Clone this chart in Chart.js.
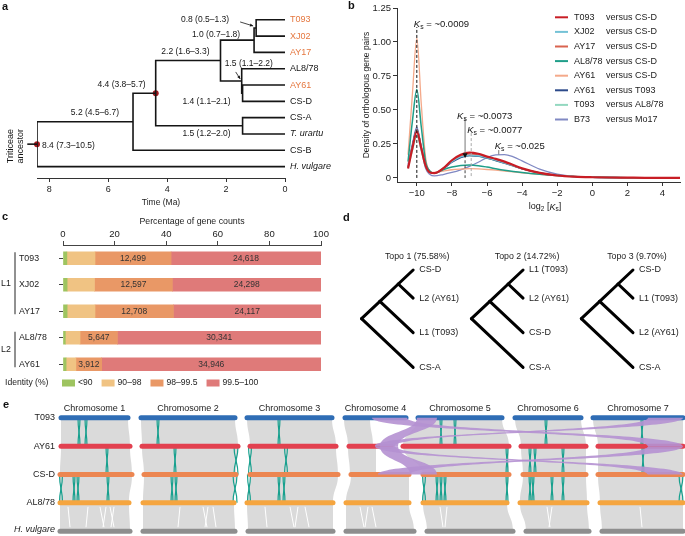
<!DOCTYPE html>
<html>
<head>
<meta charset="utf-8">
<title>Figure</title>
<script src="https://cdn.jsdelivr.net/npm/chart.js@4.4.1/dist/chart.umd.min.js"></script>
<style>
  body { margin: 0; background: #fff; }
  #fig { position: relative; width: 685px; height: 536px; overflow: hidden; font-family: "Liberation Sans", Arial, sans-serif; }
  #fig canvas { position: absolute; }
  .tag { position: absolute; font-weight: bold; font-size: 11px; color: #111; }
</style>
</head>
<body>
<div id="fig">
  <canvas id="chartA" width="340" height="215" style="left:0;top:0"></canvas>
  <canvas id="chartB" width="345" height="215" style="left:340px;top:0"></canvas>
  <canvas id="chartC" width="340" height="190" style="left:0;top:200px"></canvas>
  <canvas id="chartD" width="345" height="180" style="left:340px;top:200px"></canvas>
  <canvas id="chartE" width="685" height="141" style="left:0;top:395px"></canvas>
  <div class="tag" style="left:2px;top:0">a</div>
  <div class="tag" style="left:348px;top:-1px">b</div>
  <div class="tag" style="left:2px;top:210px">c</div>
  <div class="tag" style="left:343px;top:211px">d</div>
  <div class="tag" style="left:3px;top:398px">e</div>
</div>
<script>
// ---------- a: dated tree ----------
const leafNames = ['T093', 'XJ02', 'AY17', 'AL8/78', 'AY61', 'CS-D', 'CS-A', 'T. urartu', 'CS-B', 'H. vulgare'];
const nodeNames = ['n08', 'n10', 'n14', 'n15', 'n22', 'nUr', 'n44', 'n52', 'root'];
const nodeAges = [0.98, 1.05, 1.44, 1.47, 2.19, 1.44, 4.39, 5.16, 8.42];
const nodeKids = [['T093', 'XJ02'], ['n08', 'AY17'], ['AY61', 'CS-D'], ['AL8/78', 'n14'], ['n10', 'n15'],
                  ['CS-A', 'T. urartu'], ['n22', 'nUr'], ['n44', 'CS-B'], ['n52', 'H. vulgare']];
const nodeLabels = ['0.8 (0.5–1.3)', '1.0 (0.7–1.8)', '1.4 (1.1–2.1)', '1.5 (1.1–2.2)', '2.2 (1.6–3.3)',
                    '1.5 (1.2–2.0)', '4.4 (3.8–5.7)', '5.2 (4.5–6.7)', '8.4 (7.3–10.5)'];
const timeTicks = [8, 6, 4, 2, 0];
const rootStem = 8.75;

// ---------- b: Ks densities ----------
const ksX = [-10.5, -10.25, -10, -9.75, -9.5, -9.25, -9, -8.5, -8, -7.5, -7, -6.5, -6, -5.5, -5, -4.5, -4, -3, -2, -1, 0, 1, 2, 3, 4, 5];
const ksT093CSD = [0.07, 0.22, 0.34, 0.22, 0.09, 0.04, 0.035, 0.07, 0.13, 0.17, 0.186, 0.178, 0.157, 0.14, 0.12, 0.095, 0.07, 0.037, 0.018, 0.009, 0.005, 0.003, 0.002, 0.001, 0.001, 0.0005];
const ksXJ02CSD = [0.08, 0.23, 0.35, 0.23, 0.09, 0.04, 0.035, 0.07, 0.12, 0.155, 0.168, 0.163, 0.148, 0.13, 0.11, 0.09, 0.068, 0.038, 0.019, 0.01, 0.005, 0.003, 0.002, 0.001, 0.001, 0.0005];
const ksAY17CSD = [0.08, 0.23, 0.355, 0.23, 0.09, 0.04, 0.035, 0.07, 0.125, 0.16, 0.175, 0.17, 0.152, 0.133, 0.113, 0.09, 0.068, 0.037, 0.018, 0.009, 0.005, 0.003, 0.002, 0.001, 0.001, 0.0005];
const ksAL878CSD = [0.12, 0.42, 0.65, 0.38, 0.12, 0.05, 0.035, 0.06, 0.08, 0.092, 0.095, 0.09, 0.08, 0.068, 0.057, 0.048, 0.04, 0.027, 0.017, 0.01, 0.006, 0.003, 0.002, 0.001, 0.001, 0.0005];
const ksAY61CSD = [0.17, 0.62, 1.03, 0.55, 0.15, 0.05, 0.04, 0.05, 0.06, 0.065, 0.068, 0.066, 0.062, 0.057, 0.05, 0.044, 0.038, 0.026, 0.016, 0.009, 0.005, 0.003, 0.002, 0.001, 0.001, 0.0005];
const ksAY61T093 = [0.08, 0.24, 0.36, 0.23, 0.09, 0.04, 0.035, 0.065, 0.115, 0.15, 0.165, 0.16, 0.145, 0.128, 0.108, 0.088, 0.067, 0.037, 0.018, 0.009, 0.005, 0.003, 0.002, 0.001, 0.001, 0.0005];
const ksT093AL878 = [0.07, 0.2, 0.31, 0.2, 0.08, 0.04, 0.035, 0.07, 0.12, 0.152, 0.163, 0.158, 0.143, 0.126, 0.107, 0.087, 0.066, 0.037, 0.018, 0.009, 0.005, 0.003, 0.002, 0.001, 0.001, 0.0005];
const ksB73Mo17 = [0.1, 0.25, 0.375, 0.22, 0.07, 0.025, 0.015, 0.025, 0.04, 0.06, 0.085, 0.115, 0.15, 0.17, 0.172, 0.155, 0.125, 0.065, 0.028, 0.01, 0.005, 0.003, 0.002, 0.001, 0.001, 0.0005];
const pairA = ['T093', 'XJ02', 'AY17', 'AL8/78', 'AY61', 'AY61', 'T093', 'B73'];
const pairB = ['CS-D', 'CS-D', 'CS-D', 'CS-D', 'CS-D', 'T093', 'AL8/78', 'Mo17'];
const ksTicksX = [-10, -8, -6, -4, -2, 0, 2, 4];
const ksTicksY = [0, 0.25, 0.5, 0.75, 1, 1.25];
const ksPeakPos = [-10, -7.25, -6.9, -5.33];
const ksPeakText = ['0.0009', '0.0073', '0.0077', '0.025'];

// ---------- c: identity bars ----------
const cultivars = ['T093', 'XJ02', 'AY17', 'AL8/78', 'AY61'];
const pctLt90 = [1.5, 1.6, 1.6, 0.9, 1.2];
const pct90to98 = [10.9, 10.6, 10.8, 5.7, 3.8];
const pct98to995 = [29.5, 30.2, 30.4, 14.5, 10.0];
const pct995to100 = [58.1, 57.6, 57.2, 78.9, 85.0];
const n98to995 = [12499, 12597, 12708, 5647, 3912];
const n995to100 = [24618, 24298, 24117, 30341, 34946];
const identityClasses = ['<90', '90–98', '98–99.5', '99.5–100'];
const lineageNames = ['L1', 'L2'];
const lineageFirst = [0, 3];
const lineageLast = [2, 4];
const pctTicks = [0, 20, 40, 60, 80, 100];

// ---------- d: topologies ----------
const topoNames = ['Topo 1', 'Topo 2', 'Topo 3'];
const topoPct = ['75.58', '14.72', '9.70'];
const topoLeaves = [['CS-D', 'L2 (AY61)', 'L1 (T093)', 'CS-A'],
                    ['L1 (T093)', 'L2 (AY61)', 'CS-D', 'CS-A'],
                    ['CS-D', 'L1 (T093)', 'L2 (AY61)', 'CS-A']];
const topoLeafY = [0, 0.85, 1.9, 2.95];

// ---------- e: synteny ----------
const genomes = ['T093', 'AY61', 'CS-D', 'AL8/78', 'H. vulgare'];
const chrTitles = ['Chromosome 1', 'Chromosome 2', 'Chromosome 3', 'Chromosome 4', 'Chromosome 5', 'Chromosome 6', 'Chromosome 7'];
const chrStart = [[61, 141, 247, 345, 418, 515, 593],
                  [61, 142, 250, 349, 403, 521, 598],
                  [60, 144, 250, 351, 423, 523, 598],
                  [60, 143, 247, 346, 423, 520, 600],
                  [60, 143, 248, 346, 427, 526, 602]];
const chrEnd = [[128, 235, 332, 406, 502, 581, 683],
                [130, 238, 336, 391, 509, 586, 683],
                [132, 236, 338, 409, 509, 586, 683],
                [129, 234, 333, 409, 507, 587, 683],
                [130, 235, 333, 414, 513, 589, 683]];
const synOverRow = [0, 1];
const synOverChr = [3, 3];
const synOverTop = [[344, 370], [348, 376]];
const synOverBot = [[348, 373], [350, 376]];
const invRow = [0, 0, 0, 0, 0, 0, 0, 0,
                1, 1, 1, 1, 1, 1, 1, 1, 1, 1,
                2, 2, 2, 2, 2, 2, 2, 2, 2, 2, 2, 2, 2, 2, 2, 2, 2, 2, 2, 2];
const invPos = [79, 86, 158, 279, 441, 455, 546, 642,
                107, 175, 236, 250, 286, 507, 530, 535, 563, 643,
                61, 74, 78, 108, 172, 176, 235, 249, 279, 284, 424, 437, 441, 445, 507, 530, 533, 552, 563, 681];
const invSize = [2, 2, 2, 2, 2, 2, 2, 2,
                 2, 2, 4, 3, 3, 2, 2, 2, 2, 2,
                 3, 2, 2, 2, 2, 2, 4, 3, 2, 2, 3, 2, 2, 2, 2, 2, 2, 2, 2, 4];
const streakTop = [68, 88, 100, 106, 110, 114, 180, 203, 208, 213, 265, 290, 298, 305, 360, 368, 372, 440, 447, 547, 552, 640];
const streakBot = [70, 86, 104, 103, 114, 111, 178, 207, 205, 216, 267, 294, 295, 309, 364, 365, 376, 443, 445, 550, 549, 642];
const transRow = [0, 0, 0, 1, 1, 1];
const transTop = [[372, 407], [648, 683], [417, 437], [648, 683], [375, 395], [380, 398]];
const transBot = [[648, 683], [375, 395], [380, 398], [378, 410], [648, 683], [410, 437]];

// ---------- shared ----------
Chart.defaults.font.family = '"Liberation Sans", Arial, sans-serif';
Chart.defaults.font.size = 9;
Chart.defaults.color = '#222';
Chart.defaults.animation = false;
Chart.defaults.responsive = false;
Chart.defaults.events = [];
Chart.defaults.plugins.legend.display = false;
Chart.defaults.plugins.tooltip.enabled = false;
const FAM = Chart.defaults.font.family;
const fnt = (size, style) => (style ? style + ' ' : '') + size + 'px ' + FAM;

function richText(ctx, x, y, parts, size, align) {
  const f = p => fnt(p[1] === 'sub' ? size * 0.72 : size, p[1] === 'i' ? 'italic' : '');
  let w = 0;
  parts.forEach(p => { ctx.font = f(p); w += ctx.measureText(p[0]).width; });
  let cx = align === 'center' ? x - w / 2 : (align === 'right' ? x - w : x);
  ctx.textAlign = 'left';
  ctx.textBaseline = 'middle';
  parts.forEach(p => {
    ctx.font = f(p);
    ctx.fillText(p[0], cx, p[1] === 'sub' ? y + size * 0.3 : y);
    cx += ctx.measureText(p[0]).width;
  });
}

function arrow(ctx, x1, y1, x2, y2, head) {
  const a = Math.atan2(y2 - y1, x2 - x1);
  ctx.beginPath(); ctx.moveTo(x1, y1); ctx.lineTo(x2, y2); ctx.stroke();
  ctx.beginPath(); ctx.moveTo(x2, y2);
  ctx.lineTo(x2 - head * Math.cos(a - 0.45), y2 - head * Math.sin(a - 0.45));
  ctx.lineTo(x2 - head * Math.cos(a + 0.45), y2 - head * Math.sin(a + 0.45));
  ctx.closePath(); ctx.fill();
}

function vline(ctx, x, y1, y2) { ctx.beginPath(); ctx.moveTo(x, y1); ctx.lineTo(x, y2); ctx.stroke(); }

// ========== panel a ==========
const orangeLeaves = ['T093', 'XJ02', 'AY17', 'AY61'];
const italicLeaves = ['T. urartu', 'H. vulgare'];
const nodeLabelPos = [[-27, -8, 'right'], [-14, -5.5, 'right'], [-12, 8, 'right'], [-17, -17, 'left'], [-11, -8.5, 'right'],
                      [-12, 8, 'right'], [-10, -9, 'right'], [-14, -9, 'right'], [5, 2, 'left']];
const nodeArrows = { n08: [[-16, -6], [-3, -2]], n15: [[-6, -9], [-1.5, -2]] };
const redNodes = ['root', 'n44'];

const pos = {};
leafNames.forEach((n, i) => { pos[n] = { x: 0, y: i }; });
nodeNames.forEach((n, i) => {
  const ys = nodeKids[i].map(k => pos[k].y);
  pos[n] = { x: nodeAges[i], y: (Math.min(...ys) + Math.max(...ys)) / 2 };
});

const treeSets = nodeNames.map((n, i) => {
  const [a, b] = nodeKids[i].map(k => pos[k]);
  const t = nodeAges[i];
  return {
    data: [{ x: a.x, y: a.y }, { x: t, y: a.y }, { x: t, y: b.y }, { x: b.x, y: b.y }],
    showLine: true, pointRadius: 0, borderColor: '#151515', borderWidth: 1.6
  };
});
treeSets.push({
  data: [{ x: rootStem, y: pos.root.y }, { x: pos.root.x, y: pos.root.y }],
  showLine: true, pointRadius: 0, borderColor: '#151515', borderWidth: 1.6, clip: false
});
treeSets.push({
  data: redNodes.map(n => ({ x: pos[n].x, y: pos[n].y })),
  showLine: false, pointRadius: 3, pointBackgroundColor: '#a3191f', pointBorderWidth: 0, clip: false
});

const treeText = {
  id: 'treeText',
  afterDatasetsDraw(chart) {
    const { ctx, scales: { x, y } } = chart;
    ctx.save();
    ctx.textBaseline = 'middle';
    leafNames.forEach((n, i) => {
      ctx.font = fnt(9, italicLeaves.includes(n) ? 'italic' : '');
      ctx.fillStyle = orangeLeaves.includes(n) ? '#e5773f' : '#151515';
      ctx.textAlign = 'left';
      ctx.fillText(n, x.getPixelForValue(0) + 5, y.getPixelForValue(i));
    });
    ctx.font = fnt(8.5);
    ctx.fillStyle = '#151515';
    ctx.strokeStyle = '#151515';
    ctx.lineWidth = 0.8;
    nodeNames.forEach((n, i) => {
      const [dx, dy, al] = nodeLabelPos[i];
      const px = x.getPixelForValue(pos[n].x), py = y.getPixelForValue(pos[n].y);
      ctx.textAlign = al;
      ctx.textBaseline = 'middle';
      ctx.fillText(nodeLabels[i], px + dx, py + dy);
      if (nodeArrows[n]) {
        const [f, t] = nodeArrows[n];
        arrow(ctx, px + f[0], py + f[1], px + t[0], py + t[1], 3.5);
      }
    });
    ctx.font = fnt(9);
    ctx.textAlign = 'center';
    const ry = y.getPixelForValue(pos.root.y);
    ctx.translate(11, ry + 2);
    ctx.rotate(-Math.PI / 2);
    ctx.fillText('Triticeae', 0, 0);
    ctx.fillText('ancestor', 0, 10);
    ctx.restore();
  }
};

new Chart(document.getElementById('chartA'), {
  type: 'scatter',
  data: { datasets: treeSets },
  options: {
    layout: { padding: { left: 37, right: 55, top: 10, bottom: 0 } },
    scales: {
      x: {
        type: 'linear', reverse: true, min: 0, max: 8.42,
        afterBuildTicks: s => { s.ticks = timeTicks.map(v => ({ value: v })); },
        afterFit: s => { s.height = 37; },
        grid: { drawOnChartArea: false, tickLength: 4, color: '#333' },
        border: { color: '#333' },
        ticks: { font: { size: 9 }, padding: 2 },
        title: { display: true, text: 'Time (Ma)', font: { size: 8.5 }, padding: { top: 0, bottom: 7 } }
      },
      y: { type: 'linear', display: false, reverse: true, min: -0.6, max: 9.7 }
    }
  },
  plugins: [treeText]
});

// ========== panel b ==========
const ksSeries = [ksT093CSD, ksXJ02CSD, ksAY17CSD, ksAL878CSD, ksAY61CSD, ksAY61T093, ksT093AL878, ksB73Mo17];
const ksColors = ['#c81d25', '#74c2d6', '#d9634f', '#1f9e89', '#f4a98a', '#2c4a8a', '#93d8c0', '#8089c3'];
const ksWidths = [2.2, 1.3, 1.3, 1.5, 1.3, 1.3, 1.3, 1.3];
const ksLineTop = [1.11, 0.44, 0.33, 0.205];
const ksLabelY = [1.13, 0.455, 0.35, 0.235];
const ksLabelDx = [-3, -8, -4, -4];

const ksText = {
  id: 'ksText',
  afterDatasetsDraw(chart) {
    const { ctx, scales: { x, y } } = chart;
    const X = v => x.getPixelForValue(v), Y = v => y.getPixelForValue(v);
    ctx.save();
    ctx.lineWidth = 1;
    ctx.setLineDash([3, 2]);
    ctx.strokeStyle = '#111';
    vline(ctx, X(ksPeakPos[0]), Y(0), Y(ksLineTop[0]));
    ctx.setLineDash([]);
    ctx.strokeStyle = '#777';
    ctx.fillStyle = '#111';
    vline(ctx, X(ksPeakPos[1]), Y(ksLineTop[1]), Y(0.17));
    ctx.beginPath();
    ctx.moveTo(X(ksPeakPos[1]), Y(0.145));
    ctx.lineTo(X(ksPeakPos[1]) - 2.5, Y(0.145) - 5);
    ctx.lineTo(X(ksPeakPos[1]) + 2.5, Y(0.145) - 5);
    ctx.closePath(); ctx.fill();
    ctx.setLineDash([3, 2]);
    ctx.strokeStyle = '#444';
    vline(ctx, X(ksPeakPos[1]), Y(0.13), Y(0));
    ctx.strokeStyle = '#aaa';
    vline(ctx, X(ksPeakPos[2]), Y(ksLineTop[2]), Y(0));
    ctx.setLineDash([]);
    ctx.strokeStyle = '#777';
    vline(ctx, X(ksPeakPos[3]), Y(ksLineTop[3]), Y(0.172));
    ctx.fillStyle = '#151515';
    ksPeakText.forEach((t, i) => {
      richText(ctx, X(ksPeakPos[i]) + ksLabelDx[i], Y(ksLabelY[i]), [['K', 'i'], ['s', 'sub'], [' = ~' + t, '']], 9.5, 'left');
    });
    richText(ctx, 205, 207, [['log', ''], ['2', 'sub'], [' [', ''], ['K', 'i'], ['s', 'sub'], [']', '']], 9, 'center');
    // legend
    ctx.lineWidth = 2;
    pairA.forEach((a, i) => {
      const ly = 17.3 + i * 14.6;
      ctx.strokeStyle = ksColors[i];
      ctx.beginPath(); ctx.moveTo(215, ly); ctx.lineTo(228, ly); ctx.stroke();
      ctx.font = fnt(9);
      ctx.fillStyle = '#222';
      ctx.textAlign = 'left';
      ctx.textBaseline = 'middle';
      ctx.fillText(a, 234, ly);
      ctx.fillText('versus ' + pairB[i], 266, ly);
    });
    ctx.restore();
  }
};

new Chart(document.getElementById('chartB'), {
  type: 'scatter',
  data: {
    datasets: ksSeries.map((s, i) => ({
      data: ksX.map((v, j) => ({ x: v, y: s[j] })),
      showLine: true, pointRadius: 0, borderColor: ksColors[i], borderWidth: ksWidths[i],
      cubicInterpolationMode: 'monotone'
    }))
  },
  options: {
    layout: { padding: { left: 0, right: 5, top: 8, bottom: 0 } },
    scales: {
      x: {
        type: 'linear', min: -11.13, max: 5,
        afterBuildTicks: s => { s.ticks = ksTicksX.map(v => ({ value: v })); },
        afterFit: s => { s.height = 33; },
        grid: { drawOnChartArea: false, tickLength: 4, color: '#333' },
        border: { color: '#333' },
        ticks: { font: { size: 9.5 }, padding: 2, callback: v => (v < 0 ? '\u2212' + Math.abs(v) : String(v)) }
      },
      y: {
        type: 'linear', min: -0.03, max: 1.25,
        afterBuildTicks: s => { s.ticks = ksTicksY.map(v => ({ value: v })); },
        afterFit: s => { s.width = 57; },
        grid: { drawOnChartArea: false, tickLength: 4, color: '#333' },
        border: { color: '#333' },
        ticks: { font: { size: 9.5 }, padding: 2, callback: v => (v === 0 ? '0' : v.toFixed(2)) },
        title: { display: true, text: 'Density of orthologous gene pairs', font: { size: 8.5 }, padding: { top: 22, bottom: 0 } }
      }
    }
  },
  plugins: [ksText]
});

// ========== panel c ==========
const identityColors = ['#9ec460', '#f0c383', '#e99866', '#df7a79'];
const fmtCount = n => n.toLocaleString('en-US');

const barText = {
  id: 'barText',
  afterDatasetsDraw(chart) {
    const { ctx, scales: { y } } = chart;
    ctx.save();
    ctx.textBaseline = 'middle';
    ctx.fillStyle = '#222';
    ctx.font = fnt(8.8);
    ctx.textAlign = 'left';
    cultivars.forEach((c, i) => ctx.fillText(c, 19, y.getPixelForValue(i)));
    ctx.strokeStyle = '#222';
    ctx.lineWidth = 1;
    lineageNames.forEach((g, k) => {
      const y0 = y.getPixelForValue(lineageFirst[k]) - 6;
      const y1 = y.getPixelForValue(lineageLast[k]) + 3;
      vline(ctx, 15, y0, y1);
      ctx.fillText(g, 1, (y0 + y1) / 2);
    });
    ctx.font = fnt(8.5);
    ctx.textAlign = 'center';
    ctx.fillStyle = '#333';
    [[2, n98to995], [3, n995to100]].forEach(([d, counts]) => {
      chart.getDatasetMeta(d).data.forEach((bar, i) => {
        ctx.fillText(fmtCount(counts[i]), (bar.x + bar.base) / 2, bar.y);
      });
    });
    // legend
    const ly = 183;
    ctx.textAlign = 'left';
    ctx.fillStyle = '#222';
    ctx.font = fnt(8.6);
    ctx.fillText('Identity (%)', 5, ly);
    let lx = 62;
    identityClasses.forEach((c, i) => {
      ctx.fillStyle = identityColors[i];
      ctx.fillRect(lx, ly - 3.5, 13, 7);
      ctx.fillStyle = '#222';
      ctx.fillText(c, lx + 16, ly);
      lx += 16 + ctx.measureText(c).width + 9;
    });
    ctx.restore();
  }
};

new Chart(document.getElementById('chartC'), {
  type: 'bar',
  data: {
    labels: cultivars,
    datasets: [pctLt90, pct90to98, pct98to995, pct995to100].map((d, i) => ({
      label: identityClasses[i], data: d, backgroundColor: identityColors[i], borderWidth: 0, barThickness: 13
    }))
  },
  options: {
    indexAxis: 'y',
    layout: { padding: { left: 0, right: 19, top: 0, bottom: 12.5 } },
    scales: {
      x: {
        position: 'top', stacked: true, min: 0, max: 100,
        afterBuildTicks: s => { s.ticks = pctTicks.map(v => ({ value: v })); },
        afterFit: s => { s.height = 45; },
        grid: { drawOnChartArea: false, tickLength: 4, color: '#444' },
        border: { color: '#444' },
        ticks: { font: { size: 9.5 }, padding: 1 },
        title: { display: true, text: 'Percentage of gene counts', font: { size: 8.8 }, padding: { top: 16, bottom: 0 } }
      },
      y: {
        stacked: true,
        afterFit: s => { s.width = 63; },
        grid: { drawOnChartArea: false, offset: false, tickLength: 4, color: '#444' },
        border: { display: false },
        ticks: { display: false }
      }
    }
  },
  plugins: [barText]
});

// ========== panel d ==========
const topoLeafX0 = 2.09, topoStep = 3.14;
const mid = (a, b) => (topoLeafY[a] + topoLeafY[b]) / 2;
const topoSets = [];
topoNames.forEach((t, k) => {
  const L = topoLeafX0 + k * topoStep;
  const leaf = topoLeafY.map(v => ({ x: L, y: v }));
  const n2 = { x: L - (topoLeafY[1] - topoLeafY[0]) / 2, y: mid(0, 1) };
  const n1 = { x: L - (topoLeafY[2] - topoLeafY[0]) / 2, y: mid(0, 2) };
  const rt = { x: L - (topoLeafY[3] - topoLeafY[0]) / 2, y: mid(0, 3) };
  [[rt, leaf[3]], [rt, n1], [n1, leaf[2]], [n1, n2], [n2, leaf[0]], [n2, leaf[1]]].forEach(e => {
    topoSets.push({ data: e, showLine: true, pointRadius: 0, borderColor: '#000', borderWidth: 3, borderCapStyle: 'round' });
  });
});

const topoText = {
  id: 'topoText',
  afterDatasetsDraw(chart) {
    const { ctx, scales: { x, y } } = chart;
    ctx.save();
    ctx.fillStyle = '#222';
    ctx.textBaseline = 'middle';
    topoNames.forEach((t, k) => {
      const L = x.getPixelForValue(topoLeafX0 + k * topoStep);
      ctx.font = fnt(8.8);
      ctx.textAlign = 'center';
      ctx.fillText(t + ' (' + topoPct[k] + '%)', L + 4, y.getPixelForValue(0) - 13);
      ctx.font = fnt(9);
      ctx.textAlign = 'left';
      topoLeaves[k].forEach((n, j) => ctx.fillText(n, L + 6, y.getPixelForValue(topoLeafY[j])));
    });
    ctx.restore();
  }
};

new Chart(document.getElementById('chartD'), {
  type: 'scatter',
  data: { datasets: topoSets },
  options: {
    layout: { padding: 0 },
    scales: {
      x: { type: 'linear', display: false, min: 0, max: 9.857 },
      y: { type: 'linear', display: false, reverse: true, min: -2.121, max: 3.333 }
    }
  },
  plugins: [topoText]
});

// ========== panel e ==========
const genomeColors = ['#2f6db5', '#e2404f', '#ec8651', '#f5a53f', '#8e8e8e'];

function ribbon(ctx, X, Y, r, a1, a2, b1, b2) {
  const yT = Y(r), yB = Y(r + 1), ym = (yT + yB) / 2;
  const A1 = X(a1), A2 = X(a2), B1 = X(b1), B2 = X(b2);
  ctx.beginPath();
  ctx.moveTo(A1, yT); ctx.lineTo(A2, yT);
  ctx.bezierCurveTo(A2, ym, B2, ym, B2, yB);
  ctx.lineTo(B1, yB);
  ctx.bezierCurveTo(B1, ym, A1, ym, A1, yT);
  ctx.closePath();
  ctx.fill();
}

function crossing(ctx, X, Y, r, a, b) {
  const yT = Y(r), yB = Y(r + 1), ym = (yT + yB) / 2;
  [[a, b], [b, a]].forEach(([p, q]) => {
    ctx.beginPath();
    ctx.moveTo(X(p), yT);
    ctx.bezierCurveTo(X(p), ym, X(q), ym, X(q), yB);
    ctx.stroke();
  });
}

const synteny = {
  id: 'synteny',
  beforeDatasetsDraw(chart) {
    const { ctx, scales: { x, y } } = chart;
    const X = v => x.getPixelForValue(v), Y = v => y.getPixelForValue(v);
    ctx.save();
    ctx.fillStyle = '#dadada';
    for (let r = 0; r < genomes.length - 1; r++) {
      chrTitles.forEach((c, j) => {
        const o = synOverRow.findIndex((rr, k) => rr === r && synOverChr[k] === j);
        if (o >= 0) {
          ribbon(ctx, X, Y, r, synOverTop[o][0], synOverTop[o][1], synOverBot[o][0], synOverBot[o][1]);
        } else {
          ribbon(ctx, X, Y, r, chrStart[r][j], chrEnd[r][j], chrStart[r + 1][j], chrEnd[r + 1][j]);
        }
      });
    }
    ctx.strokeStyle = '#ffffff';
    ctx.lineWidth = 1;
    streakTop.forEach((t, i) => {
      const yT = Y(3) + 4, yB = Y(4) - 4;
      ctx.beginPath(); ctx.moveTo(X(t), yT); ctx.lineTo(X(streakBot[i]), yB); ctx.stroke();
    });
    ctx.strokeStyle = '#17a08e';
    ctx.lineWidth = 1.2;
    invPos.forEach((p, i) => {
      const h = invSize[i] / 2;
      crossing(ctx, X, Y, invRow[i], p - h, p + h);
    });
    ctx.restore();
  },
  afterDatasetsDraw(chart) {
    const { ctx, scales: { x, y } } = chart;
    const X = v => x.getPixelForValue(v), Y = v => y.getPixelForValue(v);
    ctx.save();
    ctx.globalAlpha = 0.9;
    ctx.fillStyle = '#b591d2';
    transRow.forEach((r, i) => ribbon(ctx, X, Y, r, transTop[i][0], transTop[i][1], transBot[i][0], transBot[i][1]));
    ctx.globalAlpha = 1;
    ctx.fillStyle = '#222';
    ctx.textBaseline = 'middle';
    ctx.textAlign = 'right';
    genomes.forEach((g, r) => {
      ctx.font = fnt(9, g === 'H. vulgare' ? 'italic' : '');
      ctx.fillText(g, X(55), Y(r) - (r === genomes.length - 1 ? 1.5 : 0));
    });
    ctx.font = fnt(9);
    ctx.textAlign = 'center';
    chrTitles.forEach((c, j) => ctx.fillText(c, X((chrStart[0][j] + chrEnd[0][j]) / 2), Y(-0.33)));
    ctx.restore();
  }
};

const chrSets = [];
genomes.forEach((g, r) => {
  chrTitles.forEach((c, j) => {
    chrSets.push({
      data: [{ x: chrStart[r][j], y: r }, { x: chrEnd[r][j], y: r }],
      showLine: true, pointRadius: 0, borderColor: genomeColors[r], borderWidth: 5, borderCapStyle: 'round'
    });
  });
});

new Chart(document.getElementById('chartE'), {
  type: 'scatter',
  data: { datasets: chrSets },
  options: {
    layout: { padding: 0 },
    scales: {
      x: { type: 'linear', display: false, min: 0, max: 685 },
      y: { type: 'linear', display: false, reverse: true, min: -0.807, max: 4.17 }
    }
  },
  plugins: [synteny]
});
</script>
</body>
</html>
